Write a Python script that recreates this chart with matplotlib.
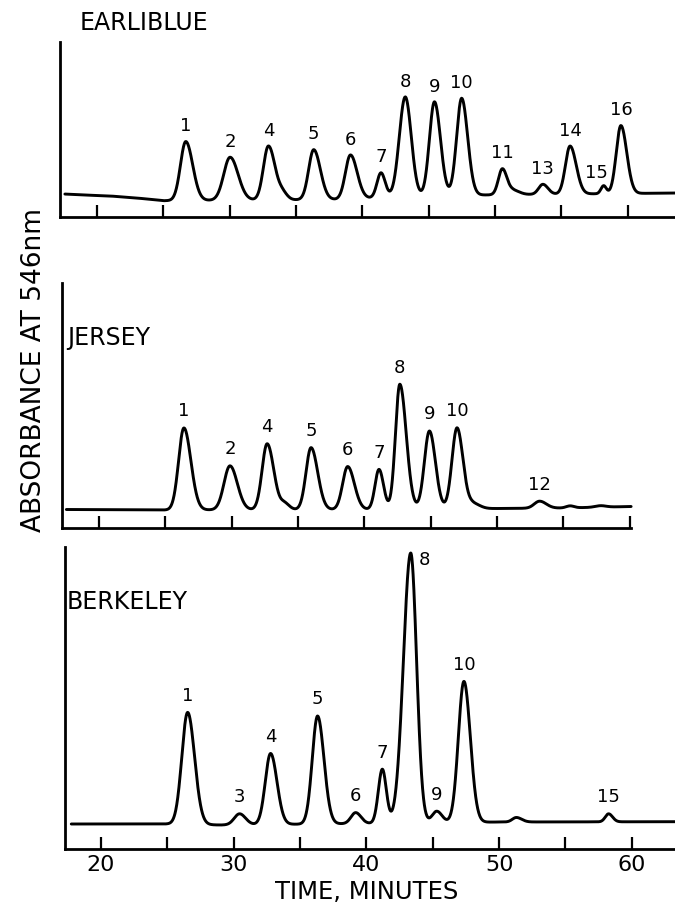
import numpy as np
import matplotlib
matplotlib.use("Agg")
import matplotlib.pyplot as plt

# ======================================
# Peak tables (time in minutes, height in chart units
# above the baseline, left / right half-widths in minutes)
# ======================================
earli_time = [26.69, 30.03, 32.92, 34.0, 36.33, 39.10, 41.40, 43.23, 45.43, 47.48, 50.55, 51.4, 53.60, 55.65, 58.18, 59.48]
earli_height = [59, 43, 54, 6, 50, 44, 25, 100, 94, 97, 26, 4, 10, 48, 8, 68]
earli_wl = [0.40, 0.48, 0.38, 0.30, 0.38, 0.38, 0.30, 0.45, 0.38, 0.38, 0.30, 0.30, 0.32, 0.35, 0.20, 0.35]
earli_wr = [0.52, 0.60, 0.50, 0.35, 0.50, 0.50, 0.32, 0.45, 0.45, 0.45, 0.35, 0.45, 0.38, 0.46, 0.20, 0.44]
earli_label = ['1', '2', '4', '', '5', '6', '7', '8', '9', '10', '11', '', '13', '14', '15', '16']
earli_base_t = [17.5, 19.0, 21.0, 23.0, 25.0, 27.0, 38.0, 46.0, 52.0, 63.8]
earli_base_y = [23.0, 22.0, 21.0, 19.0, 16.3, 16.5, 17.5, 21.5, 22.5, 24.0]

jersey_time = [26.40, 29.87, 32.67, 34.0, 35.98, 38.74, 41.10, 42.67, 44.90, 46.98, 48.2, 53.2, 55.5, 57.8]
jersey_height = [82, 44, 66, 6, 62, 43, 40, 125, 78, 81, 5, 7, 2, 1.5]
jersey_wl = [0.40, 0.45, 0.38, 0.30, 0.38, 0.38, 0.30, 0.33, 0.38, 0.38, 0.35, 0.40, 0.30, 0.40]
jersey_wr = [0.52, 0.55, 0.50, 0.35, 0.50, 0.50, 0.34, 0.48, 0.45, 0.45, 0.50, 0.50, 0.30, 0.40]
jersey_label = ['1', '2', '4', '', '5', '6', '7', '8', '9', '10', '', '12', '', '']
jersey_base_t = [17.5, 25.0, 40.0, 50.0, 55.0, 60.1]
jersey_base_y = [18.5, 18.0, 18.5, 19.5, 20.0, 21.5]

berk_time = [26.53, 30.44, 32.78, 36.32, 39.19, 41.20, 43.34, 45.30, 47.35, 51.3, 58.25]
berk_height = [112, 11, 71, 108, 11, 54, 270, 11.5, 141, 4.5, 8]
berk_wl = [0.44, 0.40, 0.40, 0.40, 0.35, 0.30, 0.55, 0.35, 0.42, 0.30, 0.25]
berk_wr = [0.52, 0.45, 0.48, 0.48, 0.40, 0.30, 0.44, 0.40, 0.48, 0.40, 0.30]
berk_label = ['1', '3', '4', '5', '6', '7', '8', '9', '10', '', '15']
berk_base_t = [17.7, 25.0, 29.0, 40.0, 50.0, 63.3]
berk_base_y = [25.0, 25.0, 24.0, 25.5, 27.0, 27.3]

x_ticks = [20, 25, 30, 35, 40, 45, 50, 55, 60]
x_ticklabels = ['20', '', '30', '', '40', '', '50', '', '60']

plt.rcParams['font.family'] = ['DejaVu Sans']

W, H = 675, 905
PPM = 13.27  # pixels per minute on the original chart


def peak_sum(t, times, heights, wl, wr):
    y = np.zeros_like(t)
    for t0, h, a, b in zip(times, heights, wl, wr):
        s = np.where(t < t0, a, b)
        y = y + h * np.exp(-0.5 * ((t - t0) / s) ** 2)
    return y


panels = [
    dict(name='EARLIBLUE', left=60, top=42, bottom=217, px20=97, t_start=17.58, t_end=None,
         times=earli_time, heights=earli_height, wl=earli_wl, wr=earli_wr, labels=earli_label,
         base_t=earli_base_t, base_y=earli_base_y, title_xy=(80, 23), lab_off=11,
         special={'15': (-5, 9)}),
    dict(name='JERSEY', left=62, top=283, bottom=528, px20=99, t_start=17.54, t_end=60.1,
         times=jersey_time, heights=jersey_height, wl=jersey_wl, wr=jersey_wr, labels=jersey_label,
         base_t=jersey_base_t, base_y=jersey_base_y, title_xy=(67, 338), lab_off=12,
         special={}),
    dict(name='BERKELEY', left=65, top=547, bottom=849, px20=101, t_start=17.76, t_end=None,
         times=berk_time, heights=berk_height, wl=berk_wl, wr=berk_wr, labels=berk_label,
         base_t=berk_base_t, base_y=berk_base_y, title_xy=(67, 602), lab_off=12,
         special={'8': (10, -5)}),
]

fig = plt.figure(figsize=(W / 100, H / 100), dpi=100)

for i, p in enumerate(panels):
    ax = fig.add_axes([p['left'] / W, 1 - p['bottom'] / H, (W - p['left']) / W,
                       (p['bottom'] - p['top']) / H])
    x0 = 20 - (p['px20'] - p['left']) / PPM
    x1 = x0 + (W - p['left']) / PPM
    ax.set_xlim(x0, x1)
    ax.set_ylim(0, p['bottom'] - p['top'])

    t_end = p['t_end'] if p['t_end'] is not None else x1
    t = np.linspace(p['t_start'], t_end, 3000)
    base = np.interp(t, p['base_t'], p['base_y'])
    y = base + peak_sum(t, p['times'], p['heights'], p['wl'], p['wr'])
    ax.plot(t, y, color='black', linewidth=2.1, solid_capstyle='round')

    # peak numbers
    tp = np.array(p['times'], dtype=float)
    yp = np.interp(tp, p['base_t'], p['base_y']) + peak_sum(tp, p['times'], p['heights'], p['wl'], p['wr'])
    for t0, y0, lbl in zip(tp, yp, p['labels']):
        if not lbl:
            continue
        dx, dy = p['special'].get(lbl, (0, p['lab_off']))
        ax.annotate(lbl, (t0, y0), xytext=(dx, dy), textcoords='offset points',
                    ha='center', va='center', fontsize=13)

    for s in ['top', 'right']:
        ax.spines[s].set_visible(False)
    for s in ['left', 'bottom']:
        ax.spines[s].set_linewidth(2.0)
    if p['t_end'] is not None:
        ax.spines['bottom'].set_bounds(x0, 60.1)
    ax.set_yticks([])
    ax.set_xticks(x_ticks)
    ax.tick_params(axis='x', direction='in', length=8.5, width=1.6)
    if i == len(panels) - 1:
        ax.set_xticklabels(x_ticklabels, fontsize=16)
        ax.tick_params(axis='x', pad=4)
    else:
        ax.set_xticklabels([])

    fig.text(p['title_xy'][0] / W, 1 - p['title_xy'][1] / H, p['name'],
             ha='left', va='center', fontsize=17)

fig.text(34 / W, 1 - 370 / H, 'ABSORBANCE AT 546nm', rotation=90,
         ha='center', va='center', fontsize=19)
fig.text(367 / W, 1 - 892 / H, 'TIME, MINUTES', ha='center', va='center', fontsize=17.5)

fig.savefig('out.png', dpi=100)
